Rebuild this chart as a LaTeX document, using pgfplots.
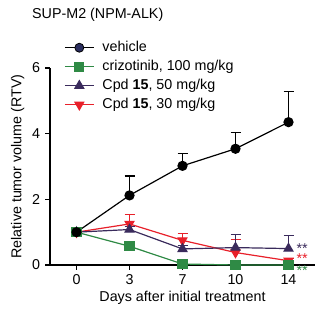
\documentclass[border=0pt]{standalone}
\usepackage{pgfplots}
\pgfplotsset{compat=1.18}
\usepackage{fontspec}
\setmainfont{Liberation Sans}
\definecolor{cgreen}{HTML}{2F8A45}
\definecolor{cpurple}{HTML}{3A2B5C}
\definecolor{cred}{HTML}{E8202A}
\definecolor{cnavy}{HTML}{2A2D5E}
\begin{document}
\fontsize{14.3}{17}\selectfont
\begin{tikzpicture}[x=1pt,y=1pt]
\useasboundingbox (0,0) rectangle (327,323);
\node[anchor=base west, inner sep=0pt] at (32,304.5) {SUP-M2 (NPM-ALK)};
\begin{axis}[
  at={(76.5pt,58pt)}, anchor=origin,
  scale only axis, width=265pt, height=197pt,
  xmin=-0.5, xmax=4.5, ymin=0, ymax=6,
  axis lines=left,
  axis line style={-, line width=1.6pt},
  tick style={line width=1.6pt, black},
  tick align=outside, major tick length=5pt,
  xtick={0,1,2,3,4}, xticklabels={0,3,7,10,14},
  ytick={0,2,4,6},
  /pgf/number format/assume math mode=true,
  ticklabel style={font=\fontsize{14.3}{17}\selectfont},
  xlabel={Days after initial treatment},
  ylabel={Relative tumor volume (RTV)},
  label style={font=\fontsize{14.3}{17}\selectfont},
  xlabel style={yshift=4pt},
  ylabel style={yshift=-2pt},
  clip=false,
  legend style={at={(0.053,1.137)}, anchor=north west, draw=none, fill=none, inner sep=0pt,
    row sep=6pt, font=\fontsize{14.3}{17}\selectfont,
    nodes={inner sep=0pt, inner xsep=8pt, text height=10pt, text depth=3pt, anchor=west}},
  legend cell align=left,
  legend image code/.code={
    \draw[mark repeat=2,mark phase=2,#1] plot coordinates {(0pt,0pt) (14.5pt,0pt) (29pt,0pt)};
  },
  every axis plot/.append style={line width=1.2pt},
  error bars/error bar style={line width=1.2pt},
  error bars/error mark options={rotate=90, mark size=5pt, line width=1.2pt},
]
\addlegendimage{black, mark=*, mark size=4.5pt, mark options={fill=cnavy, draw=black, line width=0.8pt}}
\addlegendentry{vehicle}
\addlegendimage{cgreen, mark=square*, mark size=4.5pt, mark options={fill=cgreen}}
\addlegendentry{crizotinib, 100 mg/kg}
\addlegendimage{cpurple, mark=triangle*, mark size=5pt, mark options={fill=cpurple}}
\addlegendentry{Cpd \textbf{15}, 50 mg/kg}
\addlegendimage{cred, mark=triangle*, mark size=5pt, mark options={fill=cred, rotate=180}}
\addlegendentry{Cpd \textbf{15}, 30 mg/kg}

% Cpd 15, 30 mg/kg
\addplot[cred, mark=triangle*, mark size=5pt, mark options={fill=cred, rotate=180},
  error bars/.cd, y dir=plus, y explicit] table[x=x, y=y, y error=e] {
x y e
0 1.00 0
1 1.25 0.28
2 0.75 0.22
3 0.38 0.39
4 0.13 0.07
};
% Cpd 15, 50 mg/kg
\addplot[cpurple, mark=triangle*, mark size=5pt, mark options={fill=cpurple},
  error bars/.cd, y dir=plus, y explicit] table[x=x, y=y, y error=e] {
x y e
0 1.00 0
1 1.08 0.10
2 0.49 0.10
3 0.53 0.39
4 0.50 0.40
};
% crizotinib
\addplot[cgreen, mark=square*, mark size=4.5pt, mark options={fill=cgreen}] table[x=x, y=y] {
x y
0 1.00
1 0.57
2 0.03
3 0.00
4 0.00
};
% vehicle
\addplot[black, mark=*, mark size=4.5pt, mark options={fill=black},
  error bars/.cd, y dir=plus, y explicit] table[x=x, y=y, y error=e] {
x y e
0 1.00 0
1 2.12 0.59
2 3.02 0.37
3 3.54 0.49
4 4.35 0.93
};
\node[anchor=base west, inner sep=0pt, text=cpurple] at (axis cs:4.15,0.34) {**};
\node[anchor=base west, inner sep=0pt, text=cred] at (axis cs:4.15,0.04) {**};
\node[anchor=base west, inner sep=0pt, text=cgreen] at (axis cs:4.15,-0.33) {**};
\end{axis}
\end{tikzpicture}
\end{document}
